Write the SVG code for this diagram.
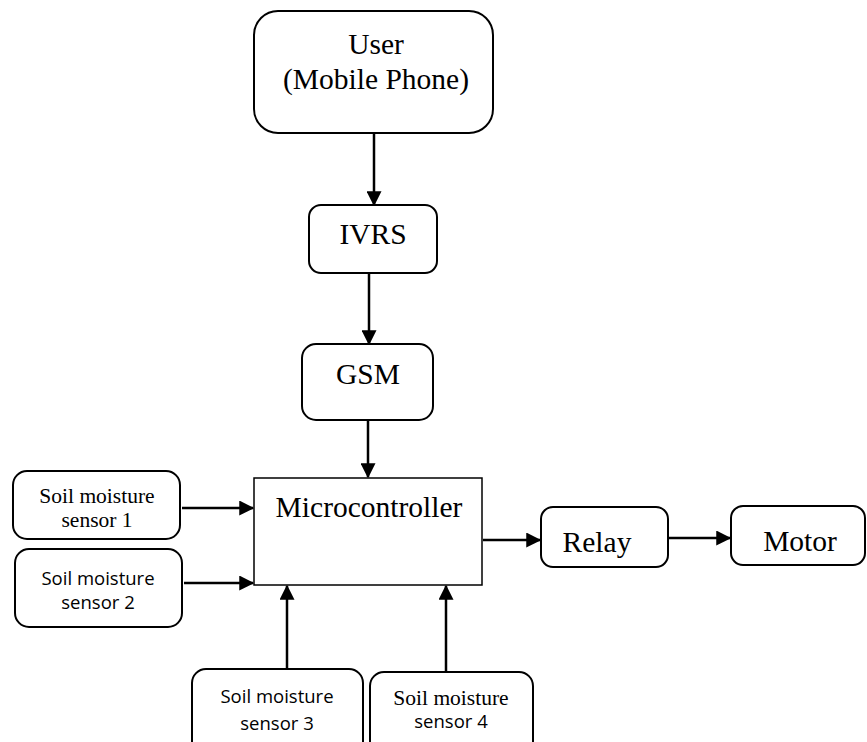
<svg xmlns="http://www.w3.org/2000/svg" width="867" height="742" viewBox="0 0 867 742">
<style>
.box{fill:#fff;stroke:#000;stroke-width:2}
.t{font-family:"Liberation Serif","Times New Roman",serif;font-size:29.5px;text-anchor:middle;fill:#000}
.s{font-family:"Liberation Serif","Times New Roman",serif;font-size:21.5px;text-anchor:middle;fill:#000}
.a{font-family:"Open Sans","Liberation Sans",sans-serif;font-size:18.5px;text-anchor:middle;fill:#000}
.c{stroke:#000;stroke-width:2.5;fill:none;marker-end:url(#ah)}
</style>
<defs>
<marker id="ah" markerWidth="6" markerHeight="6" refX="5.5" refY="3" orient="auto" markerUnits="strokeWidth">
<path d="M0,0 L6,3 L0,6 Z" fill="#000"/>
</marker>
</defs>
<g id="connectors">
<line class="c" x1="374" y1="133" x2="374" y2="205"/>
<line class="c" x1="369" y1="274" x2="369" y2="344"/>
<line class="c" x1="368" y1="421" x2="368" y2="477"/>
<line class="c" x1="182" y1="508" x2="253" y2="508"/>
<line class="c" x1="184" y1="583" x2="253" y2="583"/>
<line class="c" x1="287" y1="668" x2="287" y2="586"/>
<line class="c" x1="446" y1="671" x2="446" y2="586"/>
<line class="c" x1="483" y1="540" x2="540" y2="540"/>
<line class="c" x1="669" y1="538" x2="730" y2="538"/>
</g>
<g id="user">
<rect class="box" x="254" y="11" width="239" height="122" rx="24"/>
<text class="t" x="376" y="54">User</text>
<text class="t" x="376" y="89">(Mobile Phone)</text>
</g>
<g id="ivrs">
<rect class="box" x="309" y="205" width="128" height="68" rx="12"/>
<text class="t" x="373" y="244">IVRS</text>
</g>
<g id="gsm">
<rect class="box" x="302" y="344" width="131" height="76" rx="14"/>
<text class="t" x="368" y="384">GSM</text>
</g>
<g id="microcontroller">
<rect x="254" y="478" width="228" height="107" fill="#fff" stroke="#000" stroke-width="1.5"/>
<text class="t" x="369" y="517">Microcontroller</text>
</g>
<g id="relay">
<rect class="box" x="541" y="507" width="127" height="60" rx="12"/>
<text class="t" x="597" y="552">Relay</text>
</g>
<g id="motor">
<rect class="box" x="731" y="506" width="134" height="59" rx="12"/>
<text class="t" x="800" y="551">Motor</text>
</g>
<g id="sensor1">
<rect class="box" x="13" y="471" width="167" height="68" rx="14"/>
<text class="s" x="97" y="503">Soil moisture</text>
<text class="s" x="97" y="527">sensor 1</text>
</g>
<g id="sensor2">
<rect class="box" x="15" y="549" width="167" height="78" rx="14"/>
<text class="a" x="98" y="585">Soil moisture</text>
<text class="a" x="98" y="609">sensor 2</text>
</g>
<g id="sensor3">
<rect class="box" x="192" y="669" width="171" height="90" rx="14"/>
<text class="a" x="277" y="703">Soil moisture</text>
<text class="a" x="277" y="730">sensor 3</text>
</g>
<g id="sensor4">
<rect class="box" x="370" y="672" width="163" height="90" rx="14"/>
<text class="s" x="451" y="705">Soil moisture</text>
<text class="a" x="451" y="728">sensor 4</text>
</g>
</svg>
